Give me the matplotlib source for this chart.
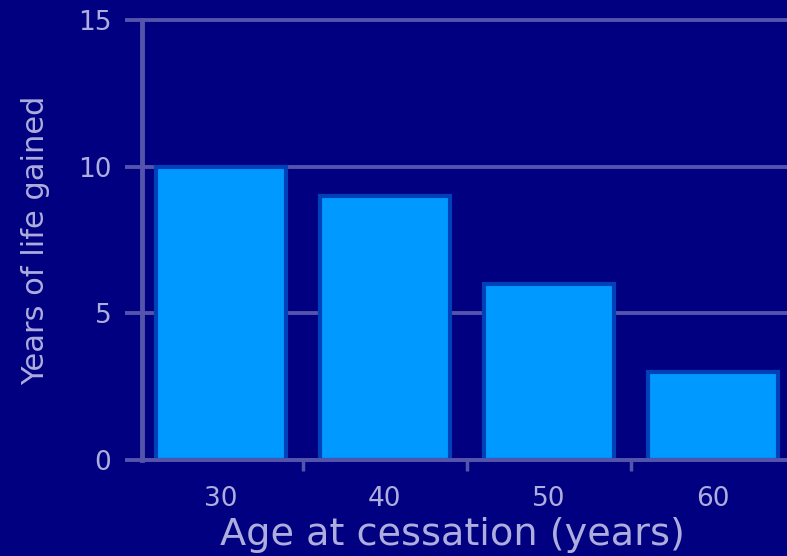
import matplotlib
matplotlib.use("Agg")
import matplotlib.pyplot as plt
import numpy as np

ages = ["30", "40", "50", "60"]
years_gained = [10, 9, 6, 3]
y_ticks = [0, 5, 10, 15]

bg = "#000080"
grid_c = "#5454AC"
text_c = "#ADADDE"
bar_c = "#0099FF"
edge_c = "#0040B8"

fig = plt.figure(figsize=(7.87, 5.56), dpi=100, facecolor=bg)
ax = fig.add_axes([142 / 787, 96 / 556, 656 / 787, 440 / 556], facecolor=bg)

x = np.arange(len(ages))
ax.bar(x, years_gained, width=0.79, color=bar_c, edgecolor=edge_c,
       linewidth=3.0, zorder=3)

ax.set_xlim(-0.48, 3.52)
ax.set_ylim(0, 15)
ax.set_yticks(y_ticks)
ax.set_yticklabels([str(t) for t in y_ticks])
ax.yaxis.grid(True, color=grid_c, linewidth=2.8, zorder=1)
for gl in ax.get_ygridlines():
    gl.set_clip_on(False)
ax.set_axisbelow(True)

ax.set_xticks(x)
ax.set_xticklabels(ages)
ax.set_xticks(np.arange(0.5, 3.5, 1.0), minor=True)
ax.tick_params(axis="x", which="major", length=0, pad=19,
               labelsize=19, labelcolor=text_c)
ax.tick_params(axis="x", which="minor", length=8, width=2.5,
               color=grid_c, direction="out")
ax.tick_params(axis="y", length=12, width=2.8, color=grid_c, pad=10,
               labelsize=19, labelcolor=text_c)

for side in ["top", "right"]:
    ax.spines[side].set_visible(False)
ax.spines["left"].set_color(grid_c)
ax.spines["left"].set_linewidth(3.5)
ax.spines["bottom"].set_color(grid_c)
ax.spines["bottom"].set_linewidth(2.8)
ax.spines["left"].set_zorder(4)
ax.spines["bottom"].set_zorder(4)

fig.text(452 / 787, 1 - 535 / 556, "Age at cessation (years)", color=text_c,
         fontsize=27.5, ha="center", va="center")
fig.text(36 / 787, 1 - 240 / 556, "Years of life gained", color=text_c,
         fontsize=22, ha="center", va="center", rotation=90)

fig.savefig("out.png", dpi=100, facecolor=bg)
